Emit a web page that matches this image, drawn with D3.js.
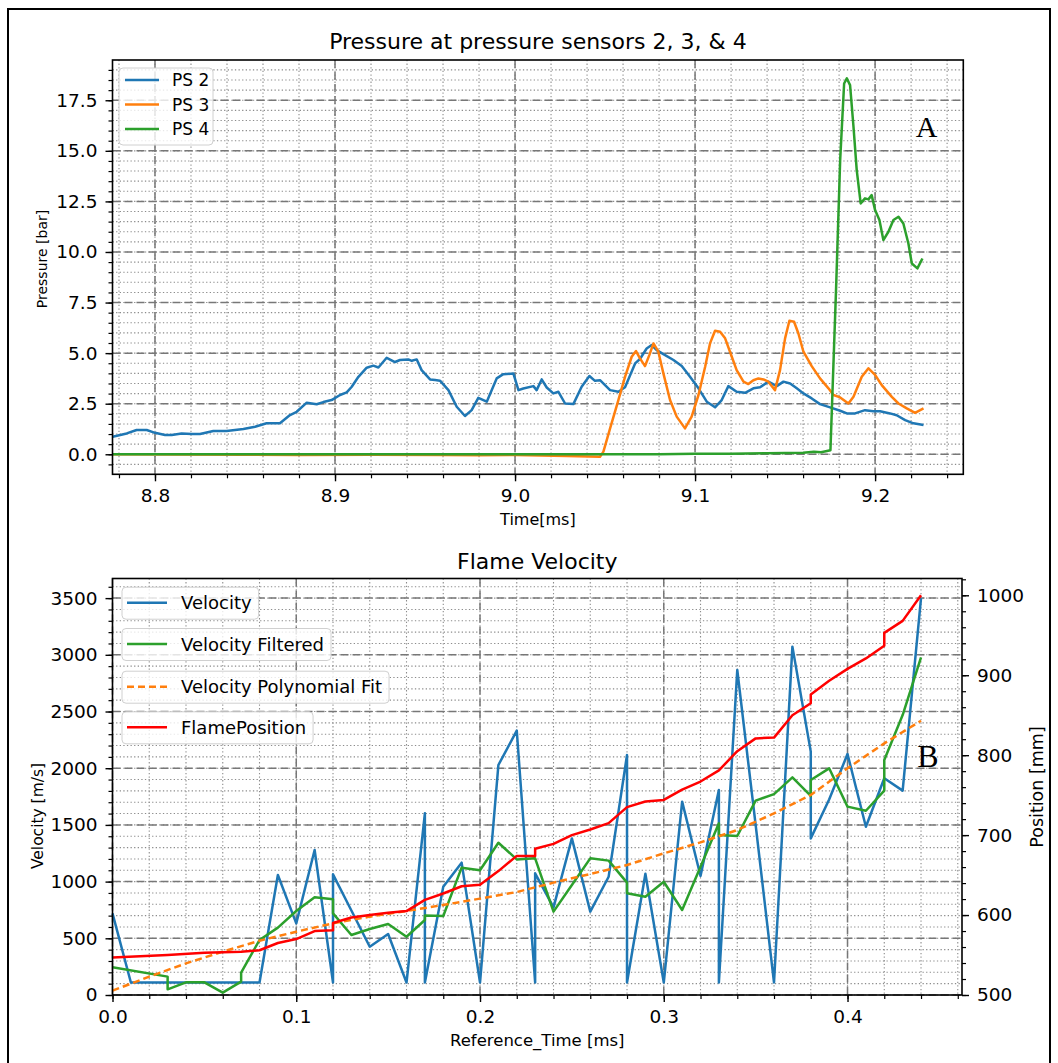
<!DOCTYPE html>
<html>
<head>
<meta charset="utf-8">
<script src="https://cdn.jsdelivr.net/npm/d3@7"></script>
<style>
  body { margin: 0; background: #fff; }
  text { font-family: "DejaVu Sans", sans-serif; }
</style>
</head>
<body>
<script>
// ---- data ----
// panel A: [time ms, pressure bar]
const ps2 = [[8.7765,0.87],[8.7843,1.03],[8.7898,1.20],[8.7954,1.20],[8.8000,1.06],[8.8056,0.95],[8.8093,0.95],[8.8148,1.03],[8.8204,1.00],[8.8250,1.00],[8.8324,1.15],[8.8398,1.15],[8.8491,1.25],[8.8556,1.36],[8.8620,1.53],[8.8694,1.53],[8.8750,1.94],[8.8787,2.10],[8.8843,2.55],[8.8898,2.47],[8.8935,2.58],[8.8981,2.68],[8.9028,2.93],[8.9065,3.06],[8.9093,3.34],[8.9130,3.83],[8.9176,4.28],[8.9213,4.38],[8.9241,4.29],[8.9287,4.77],[8.9333,4.56],[8.9361,4.66],[8.9407,4.69],[8.9426,4.62],[8.9454,4.69],[8.9481,4.16],[8.9528,3.70],[8.9556,3.67],[8.9583,3.64],[8.9630,3.17],[8.9676,2.35],[8.9722,1.89],[8.9759,2.18],[8.9796,2.79],[8.9843,2.60],[8.9898,3.75],[8.9935,3.96],[8.9991,3.99],[9.0019,3.17],[9.0046,3.25],[9.0102,3.37],[9.0120,3.17],[9.0148,3.70],[9.0176,3.30],[9.0213,3.01],[9.0241,3.09],[9.0278,2.51],[9.0324,2.48],[9.0370,3.34],[9.0413,3.87],[9.0444,3.63],[9.0472,3.66],[9.0528,3.17],[9.0574,3.09],[9.0611,3.31],[9.0667,4.49],[9.0694,4.71],[9.0731,5.23],[9.0759,5.40],[9.0787,5.15],[9.0824,4.95],[9.0880,4.66],[9.0926,4.36],[9.0972,3.83],[9.1019,3.26],[9.1065,2.60],[9.1111,2.32],[9.1148,2.68],[9.1185,3.37],[9.1231,3.09],[9.1278,3.04],[9.1324,3.26],[9.1361,3.31],[9.1407,3.59],[9.1454,3.37],[9.1491,3.59],[9.1528,3.50],[9.1565,3.26],[9.1602,3.01],[9.1648,2.76],[9.1694,2.48],[9.1750,2.32],[9.1806,2.15],[9.1843,2.02],[9.1889,2.02],[9.1944,2.18],[9.1991,2.13],[9.2028,2.13],[9.2083,2.02],[9.2120,1.93],[9.2167,1.69],[9.2213,1.53],[9.2269,1.45]];

const ps3 = [[8.7765,0.0],[8.85,-0.02],[8.88,-0.04],[8.92,-0.02],[8.96,-0.03],[8.98,-0.05],[9.0,-0.04],[9.0287,-0.09],[9.0472,-0.12],[9.0491,0.13],[9.0528,1.28],[9.0574,2.68],[9.0611,3.83],[9.0648,4.82],[9.0672,5.10],[9.0694,4.74],[9.0722,4.36],[9.0746,4.90],[9.0769,5.48],[9.0796,5.07],[9.0824,4.00],[9.0861,2.68],[9.0898,1.86],[9.0944,1.28],[9.0981,1.86],[9.1019,2.93],[9.1056,4.33],[9.1083,5.48],[9.1111,6.11],[9.1139,6.06],[9.1167,5.73],[9.1194,5.07],[9.1231,4.16],[9.1269,3.59],[9.1296,3.47],[9.1324,3.66],[9.1352,3.75],[9.1380,3.70],[9.1407,3.59],[9.1444,3.17],[9.1472,4.16],[9.1500,5.73],[9.1524,6.60],[9.1550,6.55],[9.1574,5.97],[9.1602,5.07],[9.1648,4.36],[9.1694,3.75],[9.1741,3.26],[9.1769,2.93],[9.1806,2.81],[9.1852,2.51],[9.1880,2.84],[9.1926,3.83],[9.1963,4.25],[9.2000,3.92],[9.2037,3.42],[9.2093,2.84],[9.2130,2.51],[9.2176,2.27],[9.2222,2.05],[9.2269,2.27]];

const ps4 = [[8.7765,0.0],[9.0,0.0],[9.08,0.0],[9.1,0.02],[9.12,0.03],[9.14,0.05],[9.16,0.07],[9.166,0.12],[9.17,0.1],[9.1752,0.2],[9.1783,8.1],[9.1806,14.54],[9.1828,18.33],[9.1843,18.58],[9.1861,18.25],[9.1880,16.19],[9.1898,14.05],[9.1920,12.40],[9.1944,12.65],[9.1963,12.6],[9.1981,12.81],[9.2000,12.07],[9.2024,11.58],[9.2046,10.59],[9.2074,11.0],[9.2102,11.58],[9.2130,11.74],[9.2157,11.41],[9.2185,10.42],[9.2204,9.43],[9.2235,9.19],[9.2263,9.68]];

// panel B: [reference time ms, value]
const velocity = [[0,720],[0.01,110],[0.02,110],[0.03,110],[0.04,110],[0.05,110],[0.06,110],[0.07,110],[0.08,110],[0.09,1058],[0.10,632],[0.11,1279],[0.12,110],[0.12,1064],[0.13,745],[0.14,426],[0.15,538],[0.16,110],[0.17,1602],[0.17,110],[0.18,955],[0.19,1167],[0.20,110],[0.21,2028],[0.22,2331],[0.23,110],[0.23,1073],[0.24,773],[0.25,1381],[0.26,735],[0.27,1043],[0.28,2116],[0.28,110],[0.29,1070],[0.30,110],[0.31,1705],[0.32,1049],[0.33,1808],[0.33,110],[0.34,2866],[0.35,1500],[0.36,110],[0.37,3072],[0.38,2146],[0.38,1381],[0.39,1724],[0.40,2125],[0.41,1484],[0.42,1911],[0.43,1802],[0.44,3500]];

const velocityFiltered = [[0,244],[0.03,162],[0.03,50],[0.04,112],[0.05,112],[0.06,21],[0.07,118],[0.07,197],[0.08,485],[0.09,594],[0.10,741],[0.11,861],[0.12,844],[0.12,720],[0.13,529],[0.14,582],[0.15,626],[0.16,514],[0.17,661],[0.17,700],[0.18,697],[0.19,1123],[0.20,1100],[0.21,1343],[0.22,1196],[0.23,1205],[0.24,735],[0.25,970],[0.26,1205],[0.27,1185],[0.28,991],[0.28,897],[0.29,867],[0.30,999],[0.31,750],[0.32,1132],[0.33,1514],[0.33,1411],[0.34,1402],[0.35,1714],[0.36,1772],[0.37,1919],[0.38,1755],[0.38,1896],[0.39,1999],[0.40,1661],[0.41,1625],[0.42,1802],[0.42,2072],[0.43,2469],[0.44,2978]];

const velocityFit = [[0,38],[0.02,162],[0.04,279],[0.06,382],[0.08,479],[0.10,558],[0.12,632],[0.14,691],[0.16,741],[0.18,794],[0.20,850],[0.22,908],[0.24,991],[0.26,1067],[0.28,1146],[0.30,1249],[0.32,1346],[0.34,1455],[0.36,1602],[0.38,1764],[0.40,1999],[0.42,2219],[0.44,2419]];

const flamePosition = [[0,547],[0.03,550],[0.05,553],[0.07,554],[0.08,556],[0.09,565],[0.10,570],[0.11,580],[0.12,581],[0.12,590],[0.13,597],[0.14,600],[0.15,603],[0.16,605],[0.17,619],[0.18,627],[0.19,636],[0.20,638],[0.21,655],[0.22,674],[0.23,674],[0.23,683],[0.24,689],[0.25,700],[0.26,707],[0.27,715],[0.28,735],[0.29,742],[0.30,744],[0.31,757],[0.32,767],[0.33,781],[0.34,805],[0.35,821],[0.36,822],[0.37,850],[0.38,865],[0.38,876],[0.39,893],[0.40,908],[0.41,921],[0.42,937],[0.42,953],[0.43,968],[0.44,1000]];

// tick labels
const timeTicks = [8.8, 8.9, 9.0, 9.1, 9.2];
const pressureTicks = [0, 2.5, 5, 7.5, 10, 12.5, 15, 17.5];
const refTimeTicks = [0, 0.1, 0.2, 0.3, 0.4];
const velocityTicks = [0, 500, 1000, 1500, 2000, 2500, 3000, 3500];
const positionTicks = [500, 600, 700, 800, 900, 1000];

const pressureNames = ["PS 2", "PS 3", "PS 4"];
const flameNames = ["Velocity", "Velocity Filtered", "Velocity Polynomial Fit", "FlamePosition"];

const C = { blue: "#1f77b4", orange: "#ff7f0e", green: "#2ca02c", red: "#ff0000" };

// ---- page ----
const svg = d3.select("body").append("svg")
  .attr("width", 1058).attr("height", 1063);

svg.append("rect")
  .attr("x", 8).attr("y", 9).attr("width", 1042).attr("height", 1080)
  .attr("fill", "none").attr("stroke", "#000").attr("stroke-width", 2);

const boxA = { left: 112.5, right: 963.3, top: 60, bottom: 474.3 };
const boxB = { left: 112.5, right: 962, top: 578.5, bottom: 995 };

const xA = d3.scaleLinear().domain([8.7764, 9.249]).range([boxA.left, boxA.right]);
const yA = d3.scaleLinear().domain([-0.99, 19.49]).range([boxA.bottom, boxA.top]);
const xB = d3.scaleLinear().domain([0, 0.4623]).range([boxB.left, boxB.right]);
const yV = d3.scaleLinear().domain([0, 3673]).range([boxB.bottom, boxB.top]);
const yP = d3.scaleLinear().domain([500, 1021]).range([boxB.bottom, boxB.top]);

function inside(vals, sc) {
  const [a, b] = sc.domain();
  return vals.filter(v => v >= Math.min(a, b) - 1e-9 && v <= Math.max(a, b) + 1e-9);
}

function drawGrid(box, xs, ys, xMaj, xMin, yMaj, yMin) {
  const g = svg.append("g");
  const minor = { stroke: "#8c8c8c", w: 1.1, dash: "1.3,2.3" };
  const major = { stroke: "#777", w: 1.5, dash: "8,4" };
  [[xMin, minor], [xMaj, major]].forEach(([vals, st]) => {
    g.selectAll(null).data(inside(vals, xs)).enter().append("line")
      .attr("x1", d => xs(d)).attr("x2", d => xs(d))
      .attr("y1", box.top).attr("y2", box.bottom)
      .attr("stroke", st.stroke).attr("stroke-width", st.w).attr("stroke-dasharray", st.dash);
  });
  [[yMin, minor], [yMaj, major]].forEach(([vals, st]) => {
    g.selectAll(null).data(inside(vals, ys)).enter().append("line")
      .attr("x1", box.left).attr("x2", box.right)
      .attr("y1", d => ys(d)).attr("y2", d => ys(d))
      .attr("stroke", st.stroke).attr("stroke-width", st.w).attr("stroke-dasharray", st.dash);
  });
}

function drawAxis(axisFn, sc, major, minor, fmt, transform) {
  const gMin = svg.append("g").attr("transform", transform)
    .call(axisFn(sc).tickValues(inside(minor, sc)).tickSize(4).tickFormat(""));
  gMin.select(".domain").remove();
  gMin.selectAll("line").attr("stroke-width", 1.2);
  const g = svg.append("g").attr("transform", transform)
    .call(axisFn(sc).tickValues(major).tickSize(7).tickPadding(8).tickFormat(fmt));
  g.select(".domain").remove();
  g.selectAll("line").attr("stroke-width", 1.4);
  g.selectAll("text").attr("font-size", 18.5).attr("fill", "#000")
    .style("font-family", "DejaVu Sans");
}

function spines(box) {
  svg.append("rect")
    .attr("x", box.left).attr("y", box.top)
    .attr("width", box.right - box.left).attr("height", box.bottom - box.top)
    .attr("fill", "none").attr("stroke", "#000").attr("stroke-width", 1.6);
}

function series(data, xs, ys, color, dash) {
  svg.append("path")
    .datum(data)
    .attr("d", d3.line().x(d => xs(d[0])).y(d => ys(d[1])))
    .attr("fill", "none").attr("stroke", color).attr("stroke-width", 2.5)
    .attr("stroke-linejoin", "round")
    .attr("stroke-dasharray", dash || null);
}

function label(txt, x, y, size, rotate, family) {
  const t = svg.append("text")
    .attr("text-anchor", "middle").attr("font-size", size).attr("fill", "#000")
    .text(txt);
  if (family) t.style("font-family", family);
  if (rotate) t.attr("transform", `translate(${x},${y}) rotate(-90)`);
  else t.attr("x", x).attr("y", y);
  return t;
}

// ---- panel A ----
drawGrid(boxA, xA, yA,
  timeTicks, d3.range(8.78, 9.25, 0.02),
  pressureTicks, d3.range(-0.5, 19.6, 0.5));

series(ps2, xA, yA, C.blue);
series(ps3, xA, yA, C.orange);
series(ps4, xA, yA, C.green);

drawAxis(d3.axisLeft, yA, pressureTicks, d3.range(-0.5, 19.6, 0.5), d3.format(".1f"), `translate(${boxA.left},0)`);
drawAxis(d3.axisBottom, xA, timeTicks, d3.range(8.78, 9.25, 0.02), d3.format(".1f"), `translate(0,${boxA.bottom})`);
spines(boxA);

label("Pressure at pressure sensors 2, 3, & 4", (boxA.left + boxA.right) / 2, 49, 22);
label("Time[ms]", (boxA.left + boxA.right) / 2, 525, 16);
label("Pressure [bar]", 47, 259, 14, true);
label("A", 926.5, 137, 30, false, "Liberation Serif");

// legend A
const legA = svg.append("g");
legA.append("rect").attr("x", 119).attr("y", 68).attr("width", 94).attr("height", 77).attr("rx", 4)
  .attr("fill", "#fff").attr("fill-opacity", 0.8).attr("stroke", "#d0d0d0");
[C.blue, C.orange, C.green].forEach((c, i) => {
  const y = 80 + i * 24.5;
  legA.append("line").attr("x1", 125).attr("x2", 159).attr("y1", y).attr("y2", y)
    .attr("stroke", c).attr("stroke-width", 2.5);
  legA.append("text").attr("x", 172).attr("y", y + 6).attr("font-size", 17).text(pressureNames[i]);
});

// ---- panel B ----
drawGrid(boxB, xB, yV,
  refTimeTicks, d3.range(0, 0.47, 0.02),
  velocityTicks, d3.range(0, 3700, 100));

series(velocity, xB, yV, C.blue);
series(velocityFiltered, xB, yV, C.green);
series(velocityFit, xB, yV, C.orange, "7,4");
series(flamePosition, xB, yP, C.red);

drawAxis(d3.axisLeft, yV, velocityTicks, d3.range(0, 3700, 100), d3.format("d"), `translate(${boxB.left},0)`);
drawAxis(d3.axisRight, yP, positionTicks, d3.range(500, 1030, 20), d3.format("d"), `translate(${boxB.right},0)`);
drawAxis(d3.axisBottom, xB, refTimeTicks, d3.range(0, 0.47, 0.02), d3.format(".1f"), `translate(0,${boxB.bottom})`);
spines(boxB);

label("Flame Velocity", (boxB.left + boxB.right) / 2, 569, 22);
label("Reference_Time [ms]", (boxB.left + boxB.right) / 2, 1046, 16.5);
label("Velocity [m/s]", 43, 816, 15.5, true);
label("Position [mm]", 1043, 787, 17.5, true);
label("B", 928, 766.5, 32, false, "Liberation Serif");

// legend B: one framed box per entry
const legB = svg.append("g");
const legColors = [C.blue, C.green, C.orange, C.red];
const legY = [602.7, 644, 686.7, 727.3];
flameNames.forEach((name, i) => {
  const y = legY[i];
  const box = legB.append("rect").attr("x", 122).attr("y", y - 15.5).attr("height", 32).attr("rx", 4)
    .attr("fill", "#fff").attr("fill-opacity", 0.8).attr("stroke", "#d0d0d0");
  legB.append("line").attr("x1", 127).attr("x2", 167).attr("y1", y).attr("y2", y)
    .attr("stroke", legColors[i]).attr("stroke-width", 2.5)
    .attr("stroke-dasharray", i === 2 ? "7,4" : null);
  const t = legB.append("text").attr("x", 181).attr("y", y + 6.5).attr("font-size", 18).text(name);
  box.attr("width", 181 + t.node().getComputedTextLength() + 7 - 122);
});
</script>
</body>
</html>
